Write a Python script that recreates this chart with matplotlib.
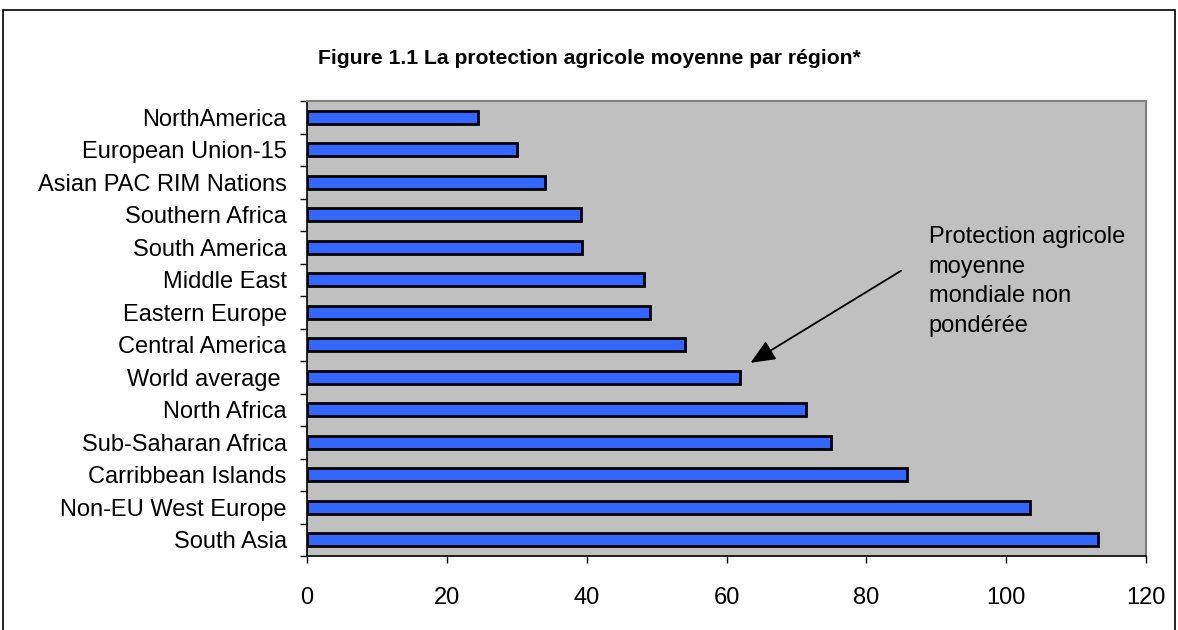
import matplotlib.pyplot as plt
from matplotlib.patches import Rectangle

regions = ['NorthAmerica', 'European Union-15', 'Asian PAC RIM Nations',
           'Southern Africa', 'South America', 'Middle East', 'Eastern Europe',
           'Central America', 'World average ', 'North Africa',
           'Sub-Saharan Africa', 'Carribbean Islands', 'Non-EU West Europe',
           'South Asia']
protection = [24.5, 30.1, 34.1, 39.2, 39.4, 48.2, 49.1, 54.1, 62.0, 71.4,
              75.0, 85.8, 103.4, 113.1]
xticks = [0, 20, 40, 60, 80, 100, 120]

plt.rcParams['font.family'] = ['Liberation Sans', 'DejaVu Sans']

fig = plt.figure(figsize=(11.78, 6.3), dpi=100)
# outer chart frame
fig.patches.append(Rectangle((3 / 1178, -0.05), 1172 / 1178, 1.05 - 10 / 630,
                             transform=fig.transFigure, fill=False,
                             edgecolor='black', linewidth=1.2))

ax = fig.add_axes([307 / 1178, 1 - 556 / 630, 839 / 1178, 455 / 630])
ax.set_facecolor('#C0C0C0')

ypos = list(range(len(regions)))
ax.barh(ypos, protection, height=0.4, color='#3366FF', edgecolor='black',
        linewidth=2)

ax.set_xlim(0, 120)
ax.set_ylim(len(regions) - 0.5, -0.5)
ax.set_xticks(xticks)
ax.set_yticks(ypos)
ax.set_yticklabels(regions)
ax.set_yticks([i + 0.5 for i in range(-1, len(regions))], minor=True)
ax.tick_params(axis='y', which='major', length=0, pad=14.5, labelsize=17)
ax.tick_params(axis='y', which='minor', length=5, width=1, direction='out')
ax.tick_params(axis='x', length=5, width=1, direction='out', pad=17,
               labelsize=17)

for s in ['top', 'right']:
    ax.spines[s].set_color('#808080')
    ax.spines[s].set_linewidth(1.5)
for s in ['left', 'bottom']:
    ax.spines[s].set_color('black')
    ax.spines[s].set_linewidth(1.2)

ax.annotate('', xy=(63.1, 7.6), xytext=(85.3, 4.68),
            arrowprops=dict(arrowstyle='-|>,head_length=1.5,head_width=0.65',
                            color='black', lw=1.3))
ax.text(88.9, 3.35, 'Protection agricole\nmoyenne\nmondiale non\npondérée',
        fontsize=17, va='top', ha='left', linespacing=1.45)

fig.text(0.5, 1 - 58 / 630, 'Figure 1.1 La protection agricole moyenne par région*',
         ha='center', va='center', fontsize=15.2, fontweight='bold')

plt.savefig('out.png', dpi=100)
